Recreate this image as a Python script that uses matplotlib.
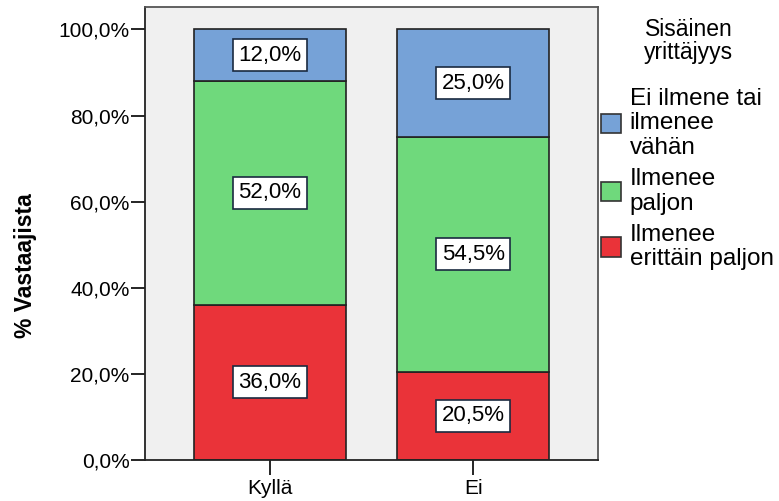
import matplotlib.pyplot as plt
from matplotlib.patches import Patch
import numpy as np

plt.rcParams["font.family"] = ["Liberation Sans", "DejaVu Sans"]

# respondent share per answer group, stacked bottom to top
groups = ["Kyllä", "Ei"]
levels = ["Ilmenee\nerittäin paljon", "Ilmenee\npaljon", "Ei ilmene tai\nilmenee\nvähän"]
erittain_paljon = [36.0, 20.5]
paljon = [52.0, 54.5]
vahan = [12.0, 25.0]
colors = ["#ea3339", "#6fd97c", "#76a2d7"]
yticks = [0, 20, 40, 60, 80, 100]

fig = plt.figure(figsize=(7.79, 5.01), dpi=100)
ax = fig.add_axes([0.186, 0.082, 0.582, 0.904])
ax.set_facecolor("#f0f0f0")

x = np.arange(len(groups))
bottom = np.zeros(len(groups))
for vals, col in zip([erittain_paljon, paljon, vahan], colors):
    ax.bar(x, vals, width=0.75, bottom=bottom, color=col,
           edgecolor="#222222", linewidth=1.2, zorder=2)
    for xi, b, v in zip(x, bottom, vals):
        ax.text(xi, b + v / 2, f"{v:.1f}%".replace(".", ","), ha="center", va="center",
                fontsize=16, zorder=3,
                bbox=dict(boxstyle="square,pad=0.25", facecolor="white",
                          edgecolor="#1a2a40", linewidth=1.2))
    bottom += np.array(vals)

ax.set_xlim(-0.616, 1.616)
ax.set_ylim(0, 105.2)
ax.set_xticks(x)
ax.set_xticklabels(groups, fontsize=15)
ax.set_yticks(yticks)
ax.set_yticklabels([f"{t:.1f}%".replace(".", ",") for t in yticks], fontsize=15)
ax.tick_params(axis="y", length=10, width=1.2, pad=1)
ax.tick_params(axis="x", length=11, width=1.2, pad=3)
for side in ["top", "right"]:
    ax.spines[side].set_color("#555555")
for side in ["left", "bottom"]:
    ax.spines[side].set_color("#222222")
for sp in ax.spines.values():
    sp.set_linewidth(1.3)

ax.set_ylabel("% Vastaajista", fontsize=16.5, fontweight="bold")
ax.yaxis.set_label_coords(-0.237, 0.43)

# legend title sits apart from the entries
fig.text(0.884, 0.965, "Sisäinen\nyrittäjyys", ha="center", va="top",
         fontsize=16.5, linespacing=1.05)
handles = [Patch(facecolor=c, edgecolor="#333333", linewidth=1.2) for c in colors[::-1]]
leg = fig.legend(handles, levels[::-1],
                 loc="upper left", bbox_to_anchor=(0.771, 0.825), frameon=False,
                 fontsize=17.5, handlelength=0.85, handleheight=0.85,
                 handletextpad=0.35, labelspacing=0.38, borderaxespad=0, borderpad=0)
for t in leg.get_texts():
    t.set_linespacing(1.15)

fig.savefig("out.png", dpi=100)
